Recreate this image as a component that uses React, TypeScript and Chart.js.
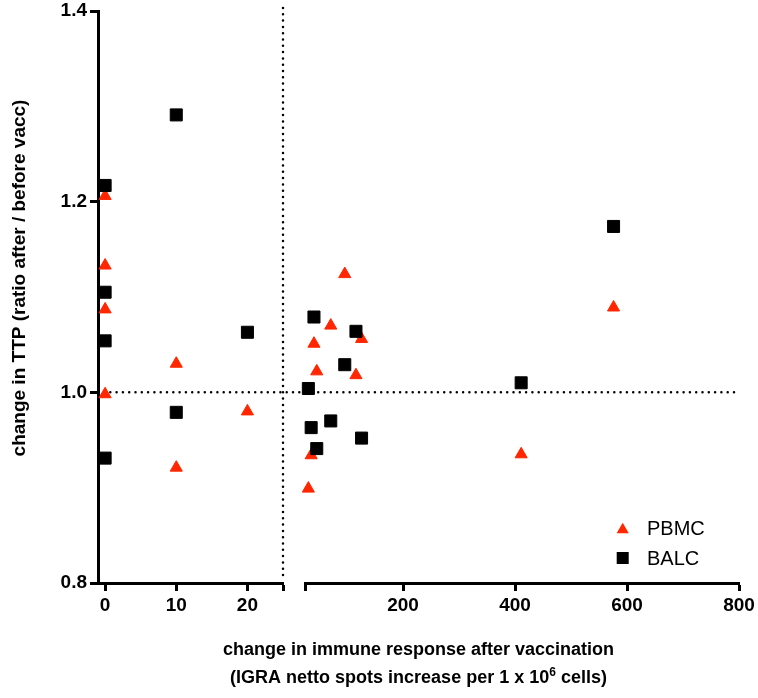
import { useEffect, useRef } from "react"
import { Chart, registerables } from "chart.js"

Chart.register(...registerables)

// left segment of the broken x axis (0 - 25)
const leftX = [0, 0, 0, 0, 10, 10, 20]
const pbmcLeft = [1.206, 1.133, 1.087, 0.998, 1.030, 0.921, 0.980]
const balcLeft = [1.217, 1.105, 1.054, 0.931, 1.291, 0.979, 1.063]

// right segment of the broken x axis (25 - 800)
const rightX = [31, 36, 41, 46, 71, 96, 116, 126, 411, 576]
const pbmcRight = [0.899, 0.934, 1.051, 1.022, 1.070, 1.124, 1.018, 1.056, 0.935, 1.089]
const balcRight = [1.004, 0.963, 1.079, 0.941, 0.970, 1.029, 1.064, 0.952, 1.010, 1.174]

const leftTicks = [0, 10, 20, 25]
const rightTicks = [25, 200, 400, 600, 800]
const yTicks = [0.8, 1.0, 1.2, 1.4]
const breakAt = 25
const refRatio = 1.0

const RED = "#ff2600"
const FONT = "'Liberation Sans', Arial, Helvetica, sans-serif"

const toPoints = (xs: number[], ys: number[]) => xs.map((x, i) => ({ x, y: ys[i] }))

const axisLine = { width: 3, color: "#000" }
const tickMarks = { drawOnChartArea: false, drawTicks: true, tickLength: 8, tickWidth: 3, tickColor: "#000" }
const tickFont = { family: FONT, size: 19, weight: "bold" as const, lineHeight: 1 }

// fixed axis sizes, no label overflow padding
const fitX = (s: any) => {
  s.height = 115
  s.paddingLeft = 0
  s.paddingRight = 0
}
const fitY = (s: any) => {
  s.width = 98
  s.paddingTop = 0
  s.paddingBottom = 0
}

const overlay = {
  id: "overlay",
  beforeDatasetsDraw(chart: any) {
    const { ctx, chartArea, scales } = chart
    const yRef = scales.y.getPixelForValue(refRatio)
    const xBreak = scales.x1.getPixelForValue(breakAt)
    ctx.save()
    ctx.strokeStyle = "#000"
    ctx.lineWidth = 2.5
    ctx.lineCap = "round"
    ctx.setLineDash([0, 6.3])
    ctx.beginPath()
    ctx.moveTo(chartArea.left + 6, yRef)
    ctx.lineTo(chartArea.right, yRef)
    ctx.stroke()
    ctx.beginPath()
    ctx.moveTo(xBreak, chartArea.top - 3)
    ctx.lineTo(xBreak, chartArea.bottom - 6)
    ctx.stroke()
    ctx.restore()
  },
  afterDraw(chart: any) {
    const { ctx, chartArea } = chart
    ctx.save()
    ctx.fillStyle = "#000"

    // y axis title
    ctx.save()
    ctx.translate(20, 278)
    ctx.rotate(-Math.PI / 2)
    ctx.font = `bold 19px ${FONT}`
    ctx.textAlign = "center"
    ctx.textBaseline = "middle"
    ctx.fillText("change in TTP (ratio after / before vacc)", 0, 0)
    ctx.restore()

    // x axis title, two lines, superscript 6
    const cx = (chartArea.left + chartArea.right) / 2
    ctx.textBaseline = "alphabetic"
    ctx.font = `bold 18px ${FONT}`
    ctx.textAlign = "center"
    ctx.fillText("change in immune response after vaccination", cx, 655)
    const pre = "(IGRA netto spots increase per 1 x 10"
    const sup = "6"
    const post = " cells)"
    ctx.textAlign = "left"
    const wPre = ctx.measureText(pre).width
    const wPost = ctx.measureText(post).width
    ctx.font = `bold 12px ${FONT}`
    const wSup = ctx.measureText(sup).width
    let x = cx - (wPre + wSup + wPost) / 2
    ctx.font = `bold 18px ${FONT}`
    ctx.fillText(pre, x, 683)
    x += wPre
    ctx.font = `bold 12px ${FONT}`
    ctx.fillText(sup, x, 676)
    x += wSup
    ctx.font = `bold 18px ${FONT}`
    ctx.fillText(post, x, 683)

    // legend
    const lx = 622.7
    const r = 7
    ctx.fillStyle = RED
    ctx.beginPath()
    ctx.moveTo(lx, 528 - r * 0.75)
    ctx.lineTo(lx + r * 0.866, 528 + r * 0.75)
    ctx.lineTo(lx - r * 0.866, 528 + r * 0.75)
    ctx.closePath()
    ctx.fill()
    ctx.fillStyle = "#000"
    ctx.fillRect(lx - 6, 558 - 6, 12, 12)
    ctx.font = `20px ${FONT}`
    ctx.textBaseline = "middle"
    ctx.fillText("PBMC", 647, 529)
    ctx.fillText("BALC", 647, 559)
    ctx.restore()
  },
}

export default function App() {
  const chartRef = useRef<HTMLCanvasElement>(null)
  const chartInstance = useRef<Chart | null>(null)

  useEffect(() => {
    if (!chartRef.current) return
    const ctx = chartRef.current.getContext("2d")
    if (!ctx) return

    if (chartInstance.current) {
      chartInstance.current.destroy()
    }

    const triangle = {
      pointStyle: "triangle",
      pointRadius: 7,
      backgroundColor: RED,
      borderColor: RED,
      borderWidth: 1,
      order: 1,
      clip: false,
    }
    const square = {
      pointStyle: "rect",
      pointRadius: 8.5,
      backgroundColor: "#000",
      borderColor: "#000",
      borderWidth: 1,
      order: 0,
      clip: false,
    }

    chartInstance.current = new Chart(ctx, {
      type: "scatter",
      data: {
        datasets: [
          { label: "PBMC", data: toPoints(leftX, pbmcLeft), xAxisID: "x1", yAxisID: "y", ...triangle },
          { label: "PBMC", data: toPoints(rightX, pbmcRight), xAxisID: "x2", yAxisID: "y", ...triangle },
          { label: "BALC", data: toPoints(leftX, balcLeft), xAxisID: "x1", yAxisID: "y", ...square },
          { label: "BALC", data: toPoints(rightX, balcRight), xAxisID: "x2", yAxisID: "y", ...square },
        ] as any,
      },
      options: {
        responsive: true,
        maintainAspectRatio: false,
        animation: false,
        events: [],
        layout: { padding: { left: 0, right: 19, top: 11, bottom: 0 } },
        plugins: {
          legend: { display: false },
          tooltip: { enabled: false },
        },
        scales: {
          x1: {
            type: "linear",
            axis: "x",
            position: "bottom",
            stack: "xs",
            stackWeight: 185,
            min: -1,
            max: breakAt,
            afterBuildTicks: (s: any) => {
              s.ticks = leftTicks.map((value) => ({ value }))
            },
            afterFit: fitX,
            ticks: {
              autoSkip: false,
              maxRotation: 0,
              padding: 5,
              color: "#000",
              font: tickFont,
              callback: (v: any) => (v === breakAt ? "" : String(v)),
            },
            grid: tickMarks,
            border: axisLine,
          },
          xgap: {
            type: "linear",
            axis: "x",
            position: "bottom",
            display: false,
            stack: "xs",
            stackWeight: 22,
            min: 0,
            max: 1,
          },
          x2: {
            type: "linear",
            axis: "x",
            position: "bottom",
            stack: "xs",
            stackWeight: 434,
            min: breakAt,
            max: 800,
            afterBuildTicks: (s: any) => {
              s.ticks = rightTicks.map((value) => ({ value }))
            },
            afterFit: fitX,
            ticks: {
              autoSkip: false,
              maxRotation: 0,
              padding: 5,
              color: "#000",
              font: tickFont,
              callback: (v: any) => (v === breakAt ? "" : String(v)),
            },
            grid: tickMarks,
            border: axisLine,
          },
          y: {
            type: "linear",
            position: "left",
            min: 0.8,
            max: 1.4,
            afterBuildTicks: (s: any) => {
              s.ticks = yTicks.map((value) => ({ value }))
            },
            afterFit: fitY,
            ticks: {
              padding: 3,
              color: "#000",
              font: tickFont,
              callback: (v: any) => Number(v).toFixed(1),
            },
            grid: tickMarks,
            border: axisLine,
          },
        } as any,
      },
      plugins: [overlay],
    })

    return () => {
      if (chartInstance.current) {
        chartInstance.current.destroy()
        chartInstance.current = null
      }
    }
  }, [])

  return (
    <div style={{ position: "absolute", left: 0, top: 0, width: 758, height: 698, background: "#fff" }}>
      <canvas ref={chartRef}></canvas>
    </div>
  )
}
